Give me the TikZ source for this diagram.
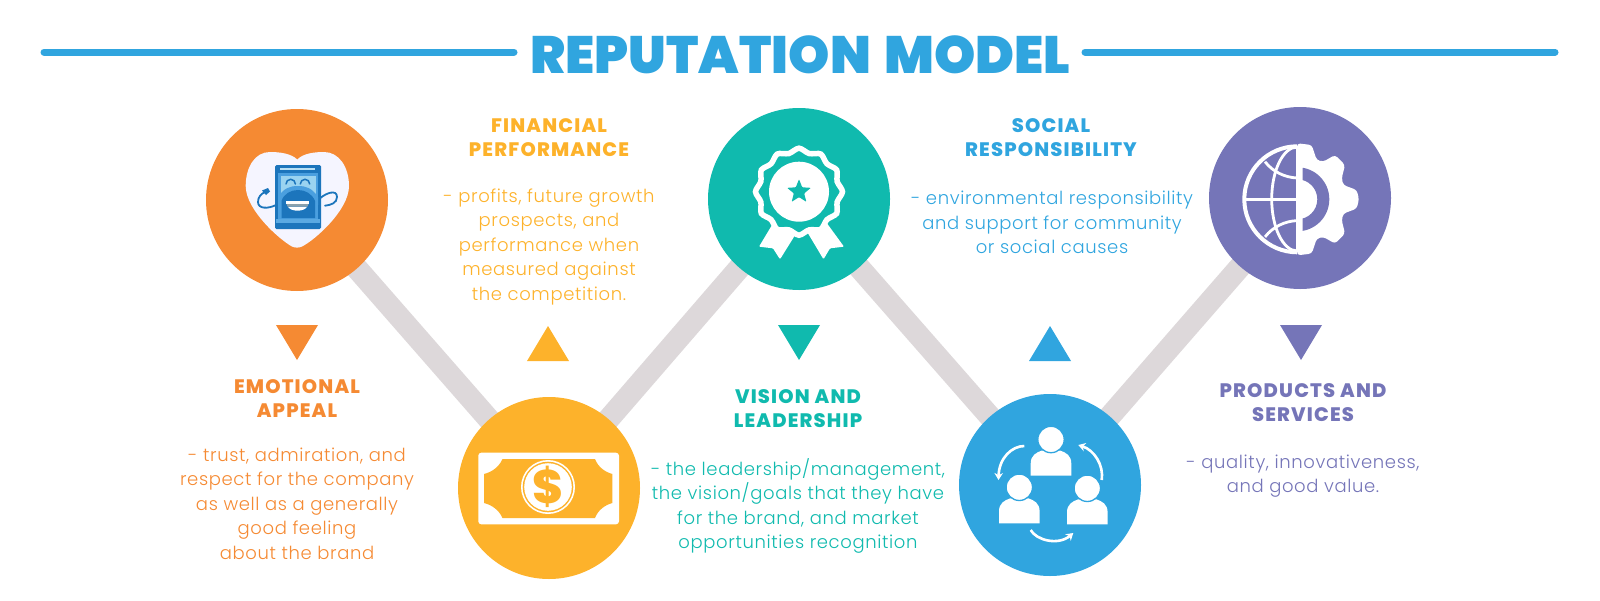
\documentclass[tikz,border=0pt]{standalone}
\usepackage{fontspec}
\usetikzlibrary{arrows.meta,backgrounds,shapes.geometric}
\setmainfont{Poppins}
\newfontfamily\bodyfont[LetterSpace=3.5]{Poppins Light}
\newfontfamily\headfont[LetterSpace=6]{Poppins ExtraBold}
\newfontfamily\coinfont{Poppins ExtraBold}
\newfontfamily\titlefont[WordSpace=1.5]{Poppins Black}
\definecolor{corange}{HTML}{F58A33}
\definecolor{cyellow}{HTML}{FDB22B}
\definecolor{cteal}{HTML}{10BAAE}
\definecolor{cblue}{HTML}{30A5DF}
\definecolor{cpurple}{HTML}{7575B8}
\definecolor{cband}{HTML}{DDD8DA}
\definecolor{rdark}{HTML}{1C75BC}
\definecolor{rmid}{HTML}{4A9FDF}
\definecolor{rlight}{HTML}{9AD3F0}
\tikzset{
  disc/.style={circle,minimum size=182pt,inner sep=0pt,draw=none},
  band/.style={cband,line width=22pt},
  rule/.style={cblue,line width=7pt,line cap=round},
  heading/.style={align=center,inner sep=0pt,font=\headfont\fontsize{19.5}{24}\selectfont},
  bodytext/.style={align=center,inner sep=0pt,font=\bodyfont\fontsize{18}{24.5}\selectfont},
}
\begin{document}
\begin{tikzpicture}[x=1pt,y=-1pt]
\useasboundingbox (0,0) rectangle (1600,600);
% discs
\node[disc,fill=corange] (c1) at (297,200) {};
\node[disc,fill=cyellow] (c2) at (549,488) {};
\node[disc,fill=cteal] (c3) at (799,199) {};
\node[disc,fill=cblue] (c4) at (1050,485) {};
\node[disc,fill=cpurple] (c5) at (1300,198) {};
\begin{pgfonlayer}{background}
\draw[band] (c1.center) -- (c2.center);
\draw[band] (c2.center) -- (c3.center);
\draw[band] (c3.center) -- (c4.center);
\draw[band] (c4.center) -- (c5.center);
\end{pgfonlayer}
% title
\node[inner sep=0pt,text=cblue,font=\titlefont\fontsize{52.5}{52.5}\selectfont] (title) at (800.5,54.5) {REPUTATION MODEL};
\coordinate (l0) at (44,52); \coordinate (l1) at (514,52);
\coordinate (r0) at (1085,52); \coordinate (r1) at (1555,52);
\draw[rule] (l0) -- (l1);
\draw[rule] (r0) -- (r1);
% triangles
\fill[corange] (276,325) -- (318,325) -- (297,360) -- cycle;
\fill[cyellow] (527,361) -- (569,361) -- (548,326) -- cycle;
\fill[cteal] (778,325) -- (820,325) -- (799,360) -- cycle;
\fill[cblue] (1029,361) -- (1071,361) -- (1050,326) -- cycle;
\fill[cpurple] (1280,325) -- (1322,325) -- (1301,360) -- cycle;
% texts
\node[heading,text=corange] (h1) at (297,398.5) {EMOTIONAL\\APPEAL};
\node[bodytext,text=corange] (b1) at (297,503.5) {- trust, admiration, and\\respect for the company\\as well as a generally\\good feeling\\about the brand};
\node[heading,text=cyellow] (h2) at (549,137.5) {FINANCIAL\\PERFORMANCE};
\node[bodytext,text=cyellow] (b2) at (549,247) {- profits, future growth\\prospects, and\\performance when\\measured against\\the competition.};
\node[heading,text=cteal] (h3) at (798,409) {VISION AND\\LEADERSHIP};
\node[bodytext,text=cteal] (b3) at (798,506) {- the leadership/management,\\the vision/goals that they have\\for the brand, and market\\opportunities recognition};
\node[heading,text=cblue] (h4) at (1051,137.5) {SOCIAL\\RESPONSIBILITY};
\node[bodytext,text=cblue] (b4) at (1052,222.5) {- environmental responsibility\\and support for community\\or social causes};
\node[heading,text=cpurple] (h5) at (1303,402.5) {PRODUCTS AND\\SERVICES};
\node[bodytext,text=cpurple] (b5) at (1303,476) {- quality, innovativeness,\\and good value.};
% heart and robot
\fill[white!96!blue] (297.3,159.5) .. controls (291,153.5) and (280,152) .. (270,152) .. controls (255,152) and (245.7,167) .. (245.7,186) .. controls (245.7,210) and (280,240) .. (292,246.5) .. controls (295,248) and (299,248) .. (302,246.5) .. controls (315,240) and (349,210) .. (349,186) .. controls (349,167) and (339,152) .. (324,152) .. controls (314,152) and (303,153.5) .. (297.3,159.5) -- cycle;
\draw[rdark,line width=1.8pt,line cap=round] (276,205) .. controls (268,209) and (258,209) .. (258,202) .. controls (258,197) and (261,194) .. (265,192);
\fill[rdark] (262,190.5) -- (268,188) -- (270,191.5) -- (266,195) -- cycle;
\draw[rdark,line width=1.8pt,line cap=round] (320,198.3) .. controls (326,193) and (337,189) .. (337,197) .. controls (337,203) and (331,205) .. (325,205.7);
\fill[rdark,rounded corners=1.5pt] (275,165) rectangle (321,229);
\fill[rlight!70!white] (280,167.7) rectangle (315,170);
\fill[rmid] (278,173) rectangle (318,222);
\fill[rlight] (280.7,176) rectangle (315.7,196);
\fill[rmid] (278,197) .. controls (284,188) and (290,186) .. (298,186) .. controls (306,186) and (312,188) .. (318,197) -- (318,205) -- (278,205) -- cycle;
\fill[rdark] (281.5,218) -- (281.5,201) .. controls (284,193.5) and (291,190) .. (298,190) .. controls (305,190) and (312,193.5) .. (315,201) -- (315,218) -- cycle;
\fill[rmid!80!rlight] (276,219) rectangle (320,223);
\draw[rdark,line width=1.5pt,line cap=round] (286,184) arc[start angle=180,end angle=360,radius=4.7];
\draw[rdark,line width=1.5pt,line cap=round] (300.3,184) arc[start angle=180,end angle=360,radius=4.7];
\fill[white] (286,201) -- (309,201) -- (309,204) -- (286,204) -- cycle;
\fill[rlight!40!gray] (286.5,204) -- (308.5,204) -- (307.5,206.5) -- (287.5,206.5) -- cycle;
\fill[white] (288,206.8) -- (307,206.8) .. controls (304,212) and (291,212) .. (288,206.8) -- cycle;
% banknote
\fill[white,rounded corners=3pt] (478.3,452.7) rectangle (619,524.3);
\fill[cyellow] (502.5,459) -- (595,459) .. controls (598,467) and (605,472) .. (612.3,474) -- (612.3,503) .. controls (605,505) and (598,510) .. (595,518) -- (502.5,518) .. controls (499,510) and (492,505) .. (484,503) -- (484,474) .. controls (492,472) and (499,467) .. (502.5,459) -- cycle;
\fill[white] (548,487) circle[radius=27];
\fill[cyellow] (548,487) circle[radius=25.3];
\fill[white] (548,487) circle[radius=23.8];
\node[inner sep=0pt,text=cyellow,font=\coinfont\fontsize{47}{47}\selectfont] (dollar) at (548,487) {\$};
% rosette
\fill[white,rounded corners=1pt] (772,225) -- (759,246.7) -- (773,248.3) -- (780,259.3) -- (797,232) -- cycle;
\fill[white,rounded corners=1pt] (826,222) -- (844,246.7) -- (830,248.3) -- (823.5,259.3) -- (806,230) -- cycle;
\draw[white,line width=5.5pt,fill=cteal] plot[domain=0:345,samples=24,smooth cycle] ({799+(41.5+2*cos(12*\x))*cos(\x)},{191.7+(41.5+2*cos(12*\x))*sin(\x)});
\fill[white] (799,191.7) circle[radius=30];
\node[star,star points=5,star point ratio=2.3,fill=cteal,minimum size=25pt,inner sep=0pt,rounded corners=0.8pt] (starmark) at (799,191.7) {};
% people
\def\personmark#1#2{%
  \fill[white] (#1-20.3,#2+36) -- (#1-20.3,#2+24) .. controls (#1-20.3,#2+16) and (#1-15,#2+13) .. (#1-9,#2+11) -- (#1+9,#2+11) .. controls (#1+15,#2+13) and (#1+20.3,#2+16) .. (#1+20.3,#2+24) -- (#1+20.3,#2+36) -- cycle;
  \fill[white,draw=cblue,line width=1.3pt] (#1,#2) circle[radius=13.2];
}
\personmark{1051}{439.5}
\personmark{1019.3}{487.3}
\personmark{1087.3}{488.3}
\draw[white,line width=2.6pt,-{Stealth[length=7pt,width=8.5pt]}] (1024.3,446) .. controls (1012,446) and (999,458) .. (998.5,480);
\draw[white,line width=2.6pt,-{Stealth[length=7pt,width=8.5pt]}] (1101.7,480) .. controls (1104,465) and (1094,450) .. (1078.3,445);
\draw[white,line width=2.6pt,-{Stealth[length=7pt,width=8.5pt]}] (1030.7,530) .. controls (1036,540) and (1058,546) .. (1073.3,533);
% globe and gear
\fill[white,rounded corners=3pt] (1297.3,143.3) -- (1311.7,145) -- (1316.7,160) -- (1323.3,161.7) -- (1335,155) -- (1345,165) -- (1341.7,178.3) -- (1343.3,185) -- (1356.7,190) -- (1359,199.3) -- (1356.7,208.6) -- (1343.3,213.6) -- (1341.7,220.3) -- (1345,233.6) -- (1335,243.6) -- (1323.3,236.9) -- (1316.7,238.6) -- (1311.7,253.6) -- (1297.3,255.3) -- cycle;
\begin{scope}
\clip (1302.7,160) rectangle (1345,240);
\fill[cpurple,even odd rule] (1297.3,199.3) circle[radius=32] (1297.3,199.3) circle[radius=20];
\end{scope}
\draw[white,line width=4pt] (1297.3,146.3) arc[start angle=-90,end angle=-270,x radius=53,y radius=53];
\draw[white,line width=2.8pt] (1297.3,147) arc[start angle=-90,end angle=-270,x radius=25.6,y radius=52];
\draw[white,line width=2.8pt] (1244,199.3) -- (1297.3,199.3);
\draw[white,line width=2.8pt] (1297.3,146) -- (1297.3,252);
\draw[white,line width=2.8pt] (1265,161.7) .. controls (1273,172) and (1285,177.5) .. (1297.3,178);
\draw[white,line width=2.8pt] (1265,236.9) .. controls (1273,226.6) and (1285,221.1) .. (1297.3,220.6);
\end{tikzpicture}
\end{document}
